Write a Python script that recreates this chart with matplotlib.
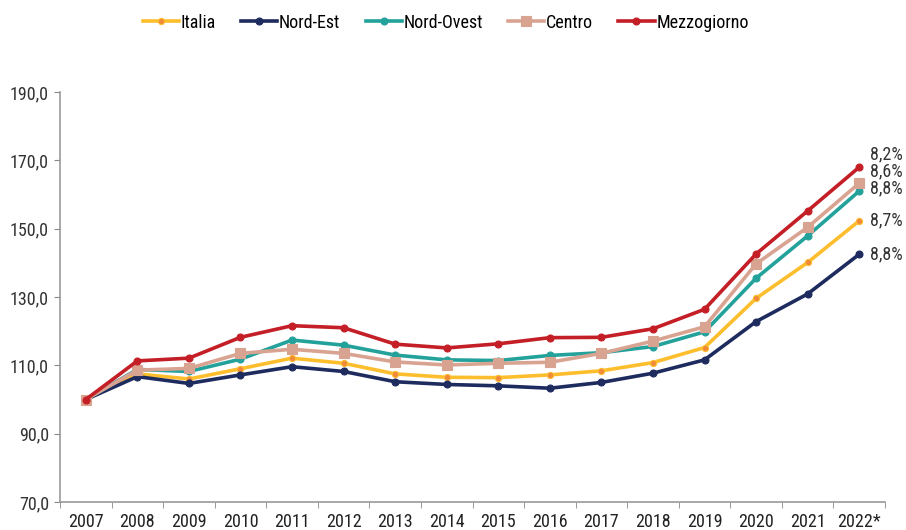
import matplotlib
matplotlib.use("Agg")
import matplotlib.pyplot as plt

plt.rcParams['font.family'] = ['Roboto Condensed', 'Roboto', 'DejaVu Sans']

years = ["2007", "2008", "2009", "2010", "2011", "2012", "2013", "2014",
         "2015", "2016", "2017", "2018", "2019", "2020", "2021", "2022*"]
italia = [100.0, 107.5, 106.0, 109.0, 112.1, 110.6, 107.5, 106.5,
          106.4, 107.2, 108.4, 110.8, 115.2, 129.6, 140.1, 152.3]
nord_est = [100.0, 106.7, 104.7, 107.2, 109.6, 108.2, 105.2, 104.4,
            104.0, 103.3, 105.0, 107.7, 111.6, 122.8, 130.9, 142.5]
nord_ovest = [100.0, 108.8, 108.2, 111.8, 117.4, 115.9, 113.0, 111.6,
              111.4, 112.9, 113.7, 115.5, 119.8, 135.5, 147.9, 161.0]
centro = [100.0, 108.6, 109.1, 113.5, 114.7, 113.5, 111.0, 110.1,
          110.6, 110.9, 113.5, 117.1, 121.3, 139.7, 150.4, 163.3]
mezzogiorno = [100.0, 111.3, 112.1, 118.2, 121.6, 121.0, 116.2, 115.1,
               116.3, 118.1, 118.2, 120.7, 126.4, 142.6, 155.2, 168.0]
end_labels = ["8,7%", "8,8%", "8,8%", "8,6%", "8,2%"]
yticks = [70, 90, 110, 130, 150, 170, 190]

fig = plt.figure(figsize=(9.06, 5.30), dpi=100)
ax = fig.add_axes([60/906, 28/530, 825/906, 410/530])

x = list(range(len(years)))
series = [
    ("Italia", italia, "#FDBE2E", "o", "#F08A3A", 4.5),
    ("Nord-Est", nord_est, "#1E2B5E", "o", "#1E2B5E", 5),
    ("Nord-Ovest", nord_ovest, "#23A19B", "o", "#23A19B", 5),
    ("Centro", centro, "#D9A391", "s", "#D9A391", 7),
    ("Mezzogiorno", mezzogiorno, "#C41E26", "o", "#C41E26", 5),
]
offsets = [(8, 0), (8, 0), (8, 2), (8, 8.5), (8, 9.5)]
for (name, vals, col, mk, mfc, ms), lab, off in zip(series, end_labels, offsets):
    ax.plot(x, vals, color=col, lw=2.6, marker=mk, ms=ms, mfc=mfc, mec=col,
            mew=0.8, label=name, solid_joinstyle='round')
    ax.annotate(lab, (x[-1], vals[-1]), xytext=off, textcoords='offset points',
                ha='left', va='center', fontsize=13, color='#333333')

ax.set_xlim(-0.5, len(years) - 0.5)
ax.set_ylim(70, 190)
ax.set_yticks(yticks)
ax.set_yticklabels([f"{v},0" for v in yticks], fontsize=13, color='#333333')
ax.set_xticks(x)
ax.set_xticklabels(years, fontsize=13, color='#222222')
ax.tick_params(axis='x', length=0, pad=8)
ax.set_xticks([i + 0.5 for i in range(-1, len(years))], minor=True)
ax.tick_params(axis='x', which='minor', length=4, color='#888888')
ax.tick_params(axis='y', length=4, color='#888888', pad=4)
for s in ['top', 'right']:
    ax.spines[s].set_visible(False)
for s in ['left', 'bottom']:
    ax.spines[s].set_color('#999999')
    ax.spines[s].set_linewidth(1.2)

fig.legend(loc='upper center', bbox_to_anchor=(0.492, 1.005), ncol=5, frameon=False,
           fontsize=13, handlelength=2.0, handletextpad=0.1, columnspacing=1.4)

fig.savefig("out.png", dpi=100)
